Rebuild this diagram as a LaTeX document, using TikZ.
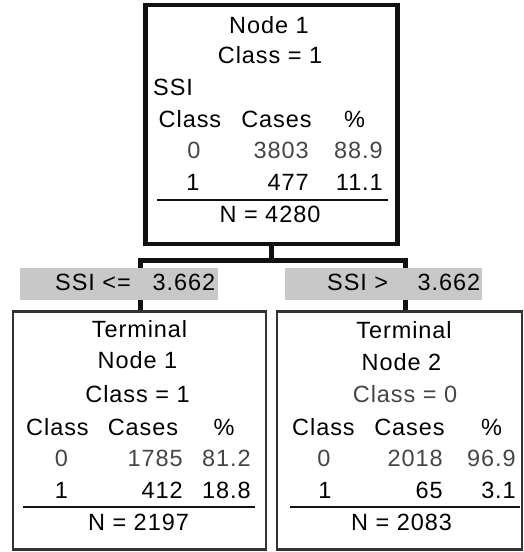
\documentclass[tikz,border=0pt]{standalone}
\usepackage{fontspec}
\setmainfont{Liberation Sans}[LetterSpace=4]
\definecolor{ink}{HTML}{111111}
\definecolor{grayink}{HTML}{454545}
\definecolor{boxedge}{HTML}{333333}
\definecolor{lblfill}{HTML}{C8C8C8}
\tikzset{
  rootbox/.style={draw=ink, line width=4.5pt, minimum width=252pt, minimum height=239pt, inner sep=0pt},
  termbox/.style={draw=boxedge, line width=2.5pt, minimum height=238pt, inner sep=0pt},
  lblbox/.style={fill=lblfill, draw=none, minimum height=32pt, inner sep=0pt},
  conn/.style={draw=ink, line width=5pt, line join=miter},
  sepline/.style={draw=ink, line width=2.2pt},
  txt/.style={inner sep=0pt, anchor=base, text=black, font=\fontsize{23.5}{28}\selectfont},
  txtr/.style={txt, anchor=base east},
  txtl/.style={txt, anchor=base west},
  g/.style={text=grayink}
}
\begin{document}
\begin{tikzpicture}[x=1pt, y=-1pt]
\useasboundingbox (0,0) rectangle (523,552);
% boxes
\node[rootbox] (n1) at (271.5,124.5) {};
\node[termbox, minimum width=253pt] (t1) at (139.5,430.5) {};
\node[termbox, minimum width=245pt] (t2) at (399.5,430.5) {};
% connectors
\coordinate (jl) at (140.5,260);
\coordinate (jr) at (405.5,260);
\draw[conn] (n1.south) -- (n1.south |- jl);
\draw[conn] (jl |- t1.north) -- (jl) -- (jr) -- (jr |- t2.north);
% split labels
\node[lblbox, minimum width=198pt] (l1) at (119,284) {};
\node[lblbox, minimum width=197pt] (l2) at (383.5,284) {};
\node[txtl] (l1t) at (55,290) {\makebox[160pt][l]{SSI <=\hfill 3.662}};
\node[txtl] (l2t) at (327,290) {\makebox[153pt][l]{SSI >\hfill 3.662}};
% root node text
\node[txt] (n1a) at (269,33) {Node 1};
\node[txt] (n1b) at (270,63) {Class = 1};
\node[txtl] (n1c) at (153,95) {SSI};
\node[txt] (n1h1) at (190,127) {Class};
\node[txt] (n1h2) at (276.5,127) {Cases};
\node[txt] (n1h3) at (354.5,127) {\%};
\node[txt,g] (n1r01) at (194,158) {0};
\node[txtr,g] (n1r02) at (309,158) {3803};
\node[txtr,g] (n1r03) at (383,158) {88.9};
\node[txt] (n1r11) at (193,190) {1};
\node[txtr] (n1r12) at (309,190) {477};
\node[txtr] (n1r13) at (383,190) {11.1};
\draw[sepline] (157,200) -- (388,200);
\node[txt] (n1n) at (270,222) {N = 4280};
% terminal 1
\node[txt] (t1a) at (139.5,337) {Terminal};
\node[txt] (t1b) at (137.5,368) {Node 1};
\node[txt] (t1c) at (137.5,402) {Class = 1};
\node[txt] (t1h1) at (57.5,435) {Class};
\node[txt] (t1h2) at (143,435) {Cases};
\node[txt] (t1h3) at (224,435) {\%};
\node[txt,g] (t1r01) at (61.5,466) {0};
\node[txtr,g] (t1r02) at (183,466) {1785};
\node[txtr,g] (t1r03) at (251,466) {81.2};
\node[txt] (t1r11) at (61.5,498) {1};
\node[txtr] (t1r12) at (183,498) {412};
\node[txtr] (t1r13) at (251,498) {18.8};
\draw[sepline] (23,507) -- (255,507);
\node[txt] (t1n) at (138.5,530) {N = 2197};
% terminal 2
\node[txt] (t2a) at (404,338) {Terminal};
\node[txt] (t2b) at (401.5,370) {Node 2};
\node[txt,g] (t2c) at (405,402) {Class = 0};
\node[txt] (t2h1) at (323.5,435) {Class};
\node[txt] (t2h2) at (409.5,435) {Cases};
\node[txt] (t2h3) at (491.5,435) {\%};
\node[txt,g] (t2r01) at (324,466) {0};
\node[txtr,g] (t2r02) at (443,466) {2018};
\node[txtr,g] (t2r03) at (516,466) {96.9};
\node[txt] (t2r11) at (325,498) {1};
\node[txtr] (t2r12) at (443,498) {65};
\node[txtr] (t2r13) at (516,498) {3.1};
\draw[sepline] (290,507) -- (520,507);
\node[txt] (t2n) at (401.5,530) {N = 2083};
\end{tikzpicture}
\end{document}
